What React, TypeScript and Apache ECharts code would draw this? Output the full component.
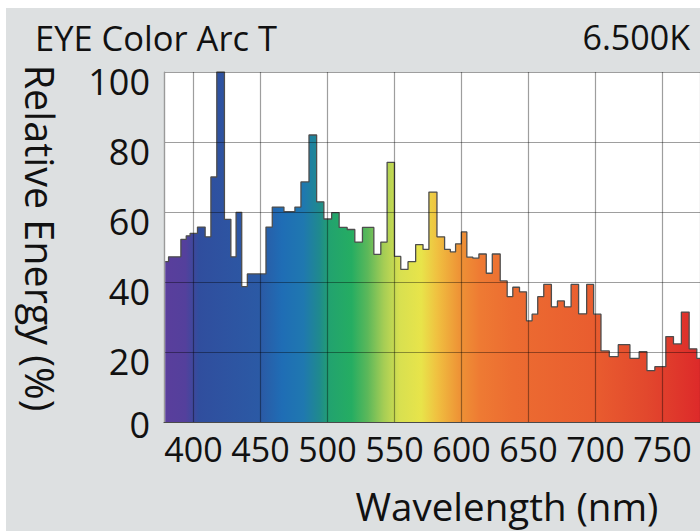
import React, { useEffect, useRef } from "react";
import * as echarts from "echarts";

// Left edge of each spectral bin (nm) and its relative energy (%)
const wavelengthEdges = [
  378.9, 381.4, 390.6, 394.6, 397.5, 403.0, 408.7, 413.0, 417.4, 423.1,
  427.9, 431.8, 436.0, 440.2, 454.1, 458.8, 467.5, 475.7, 480.2, 486.2,
  491.9, 497.3, 503.1, 508.7, 514.7, 520.4, 526.1, 534.6, 539.8, 544.5,
  550.0, 554.7, 560.1, 565.8, 571.3, 575.7, 581.7, 587.4, 591.7, 595.6,
  599.9, 604.0, 608.5, 613.0, 618.5, 623.0, 628.9, 634.1, 638.3, 643.3,
  648.5, 652.7, 656.9, 661.4, 667.1, 671.6, 676.8, 681.8, 687.4, 693.4,
  698.6, 704.1, 710.3, 717.0, 725.7, 732.6, 738.4, 744.3, 752.5, 758.2,
  764.1, 769.9, 775.6,
];
const relativeEnergy = [
  45.8, 47.2, 52.2, 53.2, 53.9, 55.7, 52.9, 70.0, 100.0, 57.9,
  47.2, 59.9, 38.7, 42.3, 55.7, 61.4, 60.1, 61.4, 68.6, 82.0,
  62.9, 58.0, 59.8, 55.6, 55.0, 51.4, 55.6, 47.9, 51.4, 74.2,
  47.3, 43.6, 45.8, 50.7, 49.3, 65.7, 52.9, 49.3, 48.6, 50.9,
  54.3, 47.1, 46.8, 48.0, 42.5, 48.0, 40.3, 35.8, 38.5, 37.2,
  28.9, 30.8, 35.8, 39.3, 32.9, 34.6, 32.9, 39.3, 30.9, 39.3,
  30.8, 20.3, 18.7, 22.1, 18.2, 20.1, 14.7, 15.8, 24.4, 22.3,
  31.4, 20.9, 18.2,
];
const lastBinEnd = 778;
const axisMinNm = 378;
const axisMaxNm = 778;

const chartTitle = "EYE Color Arc T";
const colorTemperature = "6.500K";
const xAxisTitle = "Wavelength (nm)";
const yAxisTitle = "Relative Energy (%)";

const tickFont = "'Liberation Sans Narrow', 'Open Sans', sans-serif";
const textFont = "'Open Sans', sans-serif";

export default function App() {
  const ref = useRef<HTMLDivElement>(null);

  useEffect(() => {
    const chart = echarts.init(ref.current!, null, { renderer: "svg" });
    const points: number[][] = wavelengthEdges.map((w, i) => [w, relativeEnergy[i]]);
    points.push([lastBinEnd, relativeEnergy[relativeEnergy.length - 1]]);

    const spectrum = {
      type: "linear",
      x: 164,
      y: 0,
      x2: 700,
      y2: 0,
      global: true,
      colorStops: [
        { offset: 0.0, color: "#5a3e9c" },
        { offset: 0.04, color: "#54409c" },
        { offset: 0.065, color: "#304e9e" },
        { offset: 0.18, color: "#2b5aa5" },
        { offset: 0.22, color: "#1f6db5" },
        { offset: 0.26, color: "#1f78b0" },
        { offset: 0.29, color: "#1f8a8e" },
        { offset: 0.31, color: "#22a36e" },
        { offset: 0.35, color: "#25ad62" },
        { offset: 0.38, color: "#5cb85a" },
        { offset: 0.41, color: "#a5cd55" },
        { offset: 0.44, color: "#d8e050" },
        { offset: 0.48, color: "#e8e44a" },
        { offset: 0.51, color: "#f0c040" },
        { offset: 0.55, color: "#ee9436" },
        { offset: 0.59, color: "#ee7a33" },
        { offset: 0.65, color: "#ec6c31" },
        { offset: 0.8, color: "#e95d2f" },
        { offset: 0.9, color: "#e2482d" },
        { offset: 1.0, color: "#dd2a2a" },
      ],
    };

    const yLabelBase = { fontSize: 36, fontFamily: tickFont, color: "#111111" };

    chart.setOption({
      animation: false,
      backgroundColor: "#ffffff",
      grid: {
        left: 164,
        top: 72,
        right: 0,
        bottom: 109,
        show: true,
        backgroundColor: "#ffffff",
        borderWidth: 0,
      },
      xAxis: {
        type: "value",
        min: axisMinNm,
        max: axisMaxNm,
        splitNumber: 8,
        z: 3,
        axisLine: { show: true, lineStyle: { color: "#4a4a4a", width: 1.2 } },
        axisTick: { show: false },
        axisLabel: {
          showMinLabel: false,
          showMaxLabel: false,
          margin: 10,
          fontSize: 34,
          color: "#111111",
          fontFamily: tickFont,
        },
        splitLine: { show: true, lineStyle: { color: "rgba(0,0,0,0.38)", width: 1.2 } },
      },
      yAxis: {
        type: "value",
        min: 0,
        max: 100,
        interval: 20,
        z: 3,
        axisLine: { show: true, lineStyle: { color: "#9a9a9a", width: 1.2 } },
        axisTick: { show: false },
        axisLabel: {
          margin: 14,
          color: "#111111",
          verticalAlign: "top",
          formatter: (v: number) => (v === 0 ? "{z|0}" : "{n|" + v + "}"),
          rich: {
            n: { ...yLabelBase, lineHeight: 18 },
            z: { ...yLabelBase, lineHeight: 4 },
          },
        },
        splitLine: { show: true, lineStyle: { color: "rgba(0,0,0,0.38)", width: 1.2 } },
      },
      graphic: [
        {
          type: "rect",
          z: -100,
          silent: true,
          shape: { x: 6, y: 8, width: 694, height: 523 },
          style: { fill: "#dde0e1" },
        },
        {
          type: "text",
          z: 100,
          x: 35,
          y: 37,
          style: {
            text: chartTitle,
            fontSize: 34.5,
            lineHeight: 30,
            fontFamily: textFont,
            fill: "#111111",
            verticalAlign: "middle",
          },
        },
        {
          type: "text",
          z: 100,
          x: 690,
          y: 37,
          style: {
            text: colorTemperature,
            fontSize: 34,
            lineHeight: 30,
            fontFamily: textFont,
            fill: "#111111",
            align: "right",
            verticalAlign: "middle",
          },
        },
        {
          type: "text",
          z: 100,
          x: 507,
          y: 506,
          style: {
            text: xAxisTitle,
            fontSize: 38.5,
            fontFamily: textFont,
            fill: "#111111",
            align: "center",
            verticalAlign: "middle",
          },
        },
        {
          type: "text",
          z: 100,
          x: 40,
          y: 238,
          rotation: -Math.PI / 2,
          style: {
            text: yAxisTitle,
            fontSize: 39.5,
            fontFamily: textFont,
            fill: "#111111",
            align: "center",
            verticalAlign: "middle",
          },
        },
      ],
      series: [
        {
          type: "line",
          step: "end",
          symbol: "none",
          data: points,
          z: 2,
          lineStyle: { color: "#4d4d4d", width: 1.3 },
          areaStyle: { color: spectrum, opacity: 1 },
        },
      ],
    });

    return () => chart.dispose();
  }, []);

  return (
    <div
      ref={ref}
      style={{ position: "fixed", left: 0, top: 0, width: 700, height: 531 }}
    />
  );
}
